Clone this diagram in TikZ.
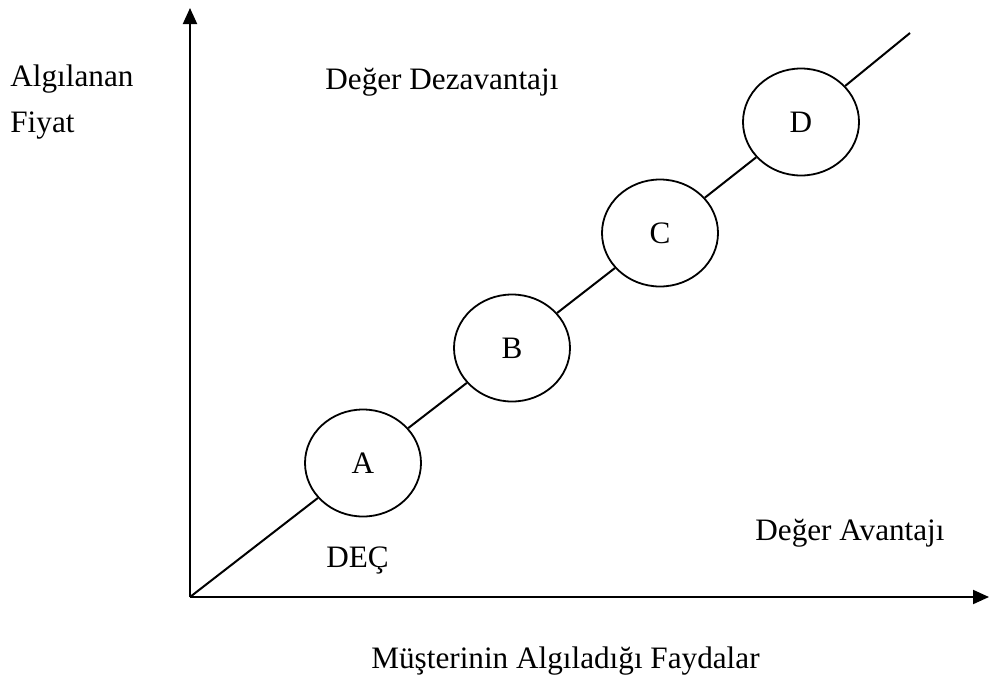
\documentclass[tikz,border=0pt]{standalone}
\usepackage{fontspec}
\setmainfont{Liberation Serif}
\usetikzlibrary{arrows.meta,shapes.geometric}
\pgfdeclarelayer{edgelayer}
\pgfdeclarelayer{nodelayer}
\pgfsetlayers{edgelayer,nodelayer,main}
\tikzstyle{edge}=[draw=black, line width=1pt]
\tikzstyle{axis}=[draw=black, line width=1pt, -{Triangle[length=8pt,width=7pt]}]
\tikzstyle{stage}=[ellipse, fill=white, draw=black, line width=0.9pt, minimum width=58pt, minimum height=53.5pt, inner sep=0pt]
\tikzstyle{label}=[inner sep=0pt, anchor=base west]
\begin{document}
\begin{tikzpicture}[x=0.5pt, y=-0.5pt, font=\fontsize{15.6}{19}\selectfont]
				\useasboundingbox (0, 0) rectangle (989, 681);
				\begin{pgfonlayer}{nodelayer}
					\coordinate (o) at (190, 597);
					\coordinate (ytop) at (190, 8);
					\coordinate (xend) at (989, 597);
					\coordinate (lend) at (910, 33);
					\node [style=stage] (a) at (363, 463) {A};
					\node [style=stage] (b) at (512, 348) {B};
					\node [style=stage] (c) at (660, 233) {C};
					\node [style=stage] (d) at (801, 122) {D};
					\node [style=label] (yl1) at (10, 86) {Algılanan};
					\node [style=label] (yl2) at (10, 132) {Fiyat};
					\node [style=label] (dis) at (325, 89) {Değer Dezavantajı};
					\node [style=label] (adv) at (755, 540) {Değer Avantajı};
					\node [style=label] (dec) at (326, 567) {DEÇ};
					\node [style=label] (xl) at (371, 668) {Müşterinin Algıladığı Faydalar};
				\end{pgfonlayer}
				\begin{pgfonlayer}{edgelayer}
					\draw [style=axis] (o) to (ytop);
					\draw [style=axis] (o) to (xend);
					\draw [style=edge] (o) to (a);
					\draw [style=edge] (a) to (b);
					\draw [style=edge] (b) to (c);
					\draw [style=edge] (c) to (d);
					\draw [style=edge] (d) to (lend);
				\end{pgfonlayer}
			\end{tikzpicture}
\end{document}
